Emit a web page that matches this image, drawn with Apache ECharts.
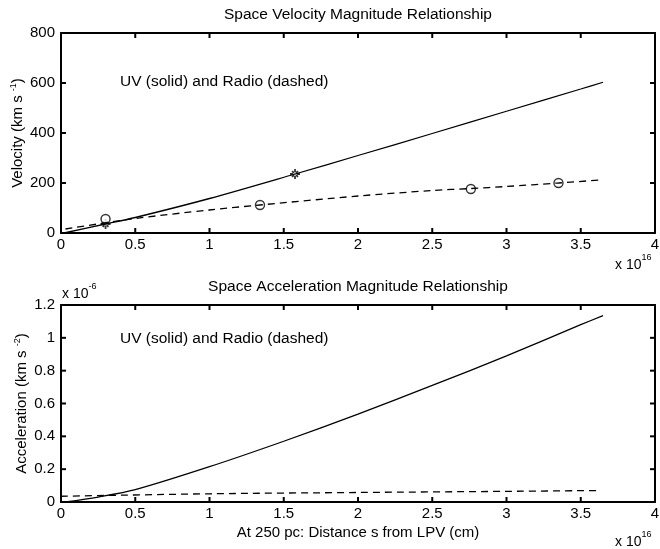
<!DOCTYPE html>
<html><head><meta charset="utf-8">
<script src="https://cdn.jsdelivr.net/npm/echarts@6/dist/echarts.min.js"></script>
<style>html,body{margin:0;padding:0;background:#fff}#c{width:660px;height:549px}</style>
</head><body><div id="c"></div>
<script>
// Distances in units of 1e16 cm
const xTickVals = [0.5, 1, 1.5, 2, 2.5, 3, 3.5];
const velTickVals = [200, 400, 600];
const accTickVals = [0.2, 0.4, 0.6, 0.8, 1.0];
// Top: velocity (km/s)
const uvVelS = [0.02, 0.3, 0.5, 1, 1.576, 2, 2.5, 3, 3.5, 3.65];
const uvVel = [0, 36, 62, 138, 236, 310, 398, 487, 576, 603];
const radioVelS = [0.03, 0.5, 1, 1.34, 2, 2.5, 2.76, 3, 3.35, 3.63];
const radioVel = [16, 58, 92, 112, 148, 170, 178, 186, 200, 212];
const uvObsS = [0.3, 1.576];
const uvObsV = [36, 236];
const radioObsS = [0.3, 1.34, 2.76, 3.35];
const radioObsV = [56, 112, 176, 200];
// Bottom: acceleration (x 1e-6 km s^-2)
const uvAccS = [0.03, 0.25, 0.5, 1, 1.5, 2, 2.5, 3, 3.5, 3.65];
const uvAcc = [0, 0.03, 0.075, 0.215, 0.37, 0.535, 0.71, 0.89, 1.08, 1.135];
const radioAccS = [0, 1, 2, 3, 3.63];
const radioAcc = [0.035, 0.05, 0.058, 0.065, 0.07];

const titles = ['Space Velocity Magnitude Relationship', 'Space Acceleration Magnitude Relationship'];
const note = 'UV (solid) and Radio (dashed)';
const xName = 'At 250 pc: Distance s from LPV (cm)';

const FONT = '"Liberation Sans", Arial, Helvetica, sans-serif';
const FS = 15;
const zip = (a, b) => a.map((v, i) => [v, b[i]]);

const star = 'path://M-0.9,-5 L0.9,-5 L0.9,5 L-0.9,5 Z M-5,-0.9 L5,-0.9 L5,0.9 L-5,0.9 Z M3.6,-2.3 L2.3,-3.6 L-3.6,2.3 L-2.3,3.6 Z M-2.3,-3.6 L-3.6,-2.3 L2.3,3.6 L3.6,2.3 Z';

function xAxes(grid) {
  const base = {
    type: 'value', gridIndex: grid, min: 0, max: 4, interval: 0.5,
    axisLine: { show: true, onZero: false, lineStyle: { color: '#000', width: 2 } },
    axisTick: { show: false },
    splitLine: { show: false }
  };
  return [
    Object.assign({}, base, { position: 'bottom',
      axisLabel: { color: '#000', fontSize: FS, fontFamily: FONT, margin: 4 },
      name: grid === 1 ? xName : '', nameLocation: 'middle', nameGap: 23, nameMoveOverlap: false,
      nameTextStyle: { color: '#000', fontSize: FS, fontFamily: FONT } }),
    Object.assign({}, base, { position: 'top', axisLabel: { show: false } })
  ];
}
function yAxes(grid, max, interval, name, gap) {
  const base = {
    type: 'value', gridIndex: grid, min: 0, max: max, interval: interval,
    axisLine: { show: true, onZero: false, lineStyle: { color: '#000', width: 2 } },
    axisTick: { show: false },
    splitLine: { show: false }
  };
  return [
    Object.assign({}, base, { position: 'left',
      axisLabel: { color: '#000', fontSize: FS, fontFamily: FONT, margin: 6 },
      name: name, nameLocation: 'middle', nameGap: gap, nameRotate: 90, nameMoveOverlap: false,
      nameTextStyle: { color: '#000', fontSize: FS, fontFamily: FONT,
        rich: { n: { fontSize: FS, fontFamily: FONT, color: '#000' },
                sup: { fontSize: 9, fontFamily: FONT, color: '#000', verticalAlign: 'top', padding: [0, 0, 9, 0] } } } }),
    Object.assign({}, base, { position: 'right', axisLabel: { show: false } })
  ];
}

// Inward tick marks on all four sides, placed through the axes' scales
function tickSeries(xi, yi, xVals, yVals, xMin, xMax, yMin, yMax) {
  const L = 5;
  const tickStyle = { stroke: '#000', lineWidth: 2 };
  return [
    { type: 'custom', xAxisIndex: xi, yAxisIndex: yi, silent: true, clip: false, z: 5,
      data: xVals.map(v => [v, yMin]),
      renderItem: (p, api) => {
        const b = api.coord([api.value(0), yMin]);
        const t = api.coord([api.value(0), yMax]);
        return { type: 'group', children: [
          { type: 'line', shape: { x1: b[0], y1: b[1], x2: b[0], y2: b[1] - L }, style: tickStyle },
          { type: 'line', shape: { x1: t[0], y1: t[1], x2: t[0], y2: t[1] + L }, style: tickStyle }
        ] };
      } },
    { type: 'custom', xAxisIndex: xi, yAxisIndex: yi, silent: true, clip: false, z: 5,
      data: yVals.map(v => [xMin, v]),
      renderItem: (p, api) => {
        const l = api.coord([xMin, api.value(1)]);
        const r = api.coord([xMax, api.value(1)]);
        return { type: 'group', children: [
          { type: 'line', shape: { x1: l[0], y1: l[1], x2: l[0] + L, y2: l[1] }, style: tickStyle },
          { type: 'line', shape: { x1: r[0], y1: r[1], x2: r[0] - L, y2: r[1] }, style: tickStyle }
        ] };
      } }
  ];
}

const chart = echarts.init(document.getElementById('c'), null, { renderer: 'canvas' });
const lineBase = { type: 'line', showSymbol: false, symbol: 'none', smooth: 0.3, animation: false };
const supRich = { a: { fontSize: 14, fontFamily: FONT, padding: [7, 0, 0, 0] }, b: { fontSize: 9, fontFamily: FONT, padding: [0, 0, 7, 0] } };
chart.setOption({
  animation: false,
  backgroundColor: '#fff',
  grid: [
    { left: 61, top: 33, width: 594, height: 200, containLabel: false, outerBoundsMode: 'none' },
    { left: 61, top: 305, width: 594, height: 197, containLabel: false, outerBoundsMode: 'none' }
  ],
  xAxis: [...xAxes(0), ...xAxes(1)],
  yAxis: [...yAxes(0, 800, 200, '{n|Velocity (km s }{sup|-1}{n|)}', 34),
          ...yAxes(1, 1.2, 0.2, '{n|Acceleration (km s }{sup|-2}{n|)}', 30)],
  series: [
    Object.assign({}, lineBase, { xAxisIndex: 0, yAxisIndex: 0, data: zip(uvVelS, uvVel),
      lineStyle: { color: '#000', width: 1.3 } }),
    Object.assign({}, lineBase, { xAxisIndex: 0, yAxisIndex: 0, data: zip(radioVelS, radioVel),
      lineStyle: { color: '#000', width: 1.3, type: [7, 5] } }),
    { type: 'scatter', xAxisIndex: 0, yAxisIndex: 0, data: zip(uvObsS, uvObsV),
      symbol: star, symbolSize: 10, itemStyle: { color: '#000' } },
    { type: 'scatter', xAxisIndex: 0, yAxisIndex: 0, data: zip(radioObsS, radioObsV),
      symbol: 'circle', symbolSize: 9, itemStyle: { color: '#fff', borderColor: '#000', borderWidth: 1.4 } },
    Object.assign({}, lineBase, { xAxisIndex: 2, yAxisIndex: 2, data: zip(uvAccS, uvAcc),
      lineStyle: { color: '#000', width: 1.3 } }),
    Object.assign({}, lineBase, { xAxisIndex: 2, yAxisIndex: 2, data: zip(radioAccS, radioAcc),
      lineStyle: { color: '#000', width: 1.3, type: [7, 5] } }),
    ...tickSeries(0, 0, xTickVals, velTickVals, 0, 4, 0, 800),
    ...tickSeries(2, 2, xTickVals, accTickVals, 0, 4, 0, 1.2)
  ],
  graphic: [
    { type: 'text', x: 358, y: 15, style: { text: titles[0], font: '15.5px ' + FONT, fill: '#000', textAlign: 'center', textVerticalAlign: 'middle' } },
    { type: 'text', x: 358, y: 287, style: { text: titles[1], font: '15.5px ' + FONT, fill: '#000', textAlign: 'center', textVerticalAlign: 'middle' } },
    { type: 'text', x: 120, y: 82, style: { text: note, font: '15.5px ' + FONT, fill: '#000', textVerticalAlign: 'middle' } },
    { type: 'text', x: 120, y: 339, style: { text: note, font: '15.5px ' + FONT, fill: '#000', textVerticalAlign: 'middle' } },
    { type: 'text', x: 615, y: 251, style: { text: '{a|x 10}{b|16}', fill: '#000', rich: supRich } },
    { type: 'text', x: 615, y: 528, style: { text: '{a|x 10}{b|16}', fill: '#000', rich: supRich } },
    { type: 'text', x: 62, y: 280, style: { text: '{a|x 10}{b|-6}', fill: '#000', rich: supRich } }
  ]
});
</script>
</body></html>
